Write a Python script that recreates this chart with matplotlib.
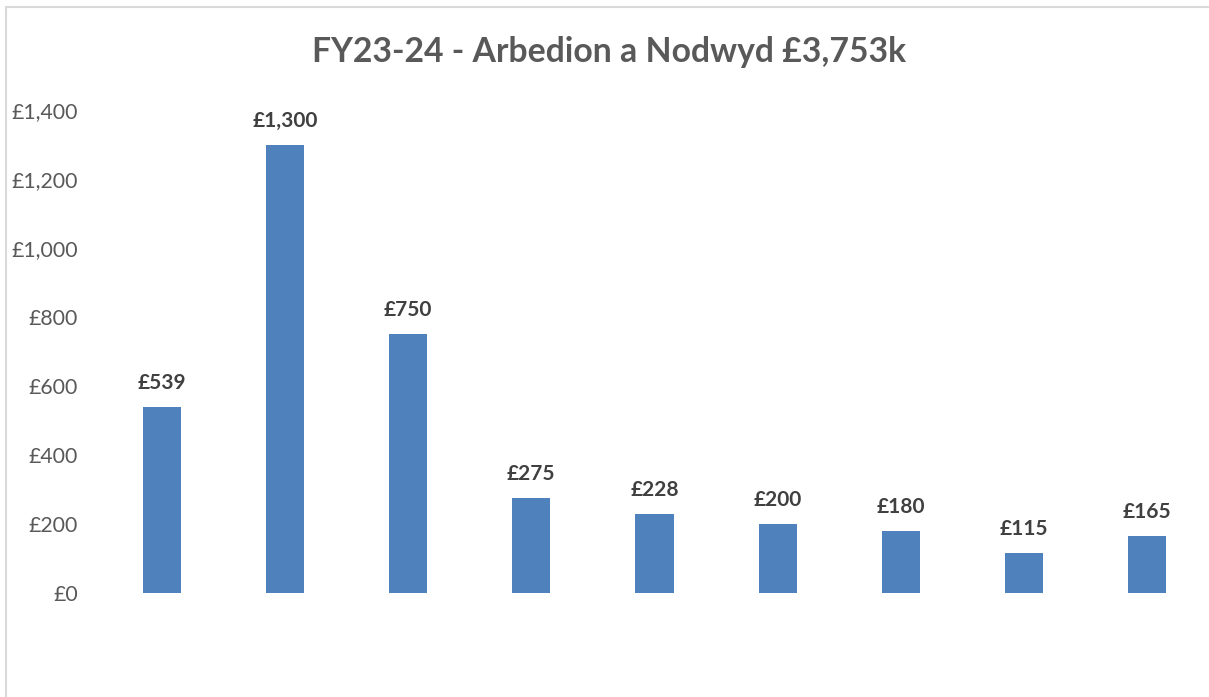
import matplotlib.pyplot as plt
from matplotlib.patches import Rectangle
from matplotlib.ticker import FuncFormatter

# Data values (£k)
categories = ["1", "2", "3", "4", "5", "6", "7", "8", "9"]
values = [539, 1300, 750, 275, 228, 200, 180, 115, 165]
title = "FY23-24 - Arbedion a Nodwyd £3,753k"

plt.rcParams['font.family'] = ['Lato', 'DejaVu Sans']

fig = plt.figure(figsize=(12.09, 6.97), dpi=100)
ax = fig.add_axes([100 / 1209, 104 / 697, 1109 / 1209, 483 / 697])

x = list(range(len(categories)))
bars = ax.bar(x, values, width=0.31, color='#4f81bd')

ax.set_xlim(-0.5, len(categories) - 0.5)
ax.set_ylim(0, 1400)
ax.set_yticks(range(0, 1401, 200))
ax.yaxis.set_major_formatter(FuncFormatter(lambda v, p: f"£{int(v):,}"))
ax.tick_params(axis='y', length=0, pad=16, labelsize=15.3, labelcolor='#595959')
ax.set_xticks([])
for s in ax.spines.values():
    s.set_visible(False)

for b, v in zip(bars, values):
    ax.annotate(f"£{v:,}", (b.get_x() + b.get_width() / 2, v),
                xytext=(0, 10), textcoords='offset points',
                ha='center', va='bottom', fontsize=15, fontweight='bold',
                color='#404040')

fig.text(0.5035, 1 - 52 / 697, title, ha='center', va='center',
         fontsize=24.3, fontweight='bold', color='#595959')

# chart area border (only left and top edges visible)
fig.patches.append(Rectangle((6 / 1209, -0.1), 1.1, 1.1 - 7 / 697 + 0.0,
                             transform=fig.transFigure, fill=False,
                             edgecolor='#d9d9d9', linewidth=1.5))

fig.savefig("out.png", dpi=100)
